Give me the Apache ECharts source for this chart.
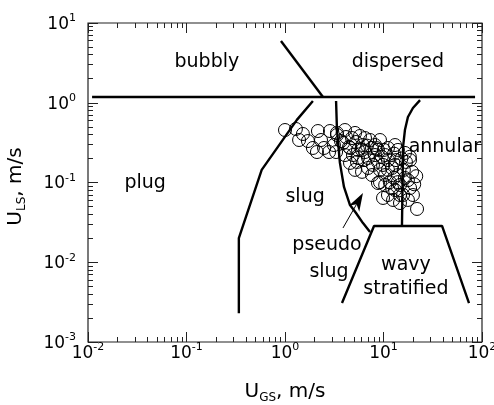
<!DOCTYPE html>
<html>
<head>
<meta charset="utf-8">
<script src="https://cdn.jsdelivr.net/npm/echarts@6/dist/echarts.min.js"></script>
<style>
  html, body { margin: 0; padding: 0; background: #fff; }
  #chart { width: 494px; height: 405px; }
</style>
</head>
<body>
<div id="chart"></div>
<script>
// Axis ranges (log-log map)
const X_RANGE = [0.01, 100];
const Y_RANGE = [0.001, 10];

// Measured points: superficial gas velocity U_GS vs liquid velocity U_LS (m/s)
const measurements = [
  [1.00, 0.455], [1.29, 0.469], [1.52, 0.406], [1.39, 0.341], [1.71, 0.331],
  [2.16, 0.442], [2.32, 0.341], [2.86, 0.442], [3.37, 0.418], [2.11, 0.241],
  [2.49, 0.271], [2.80, 0.241], [3.14, 0.295], [3.70, 0.331], [1.92, 0.271],
  [3.37, 0.394], [3.88, 0.313], [3.30, 0.241], [4.16, 0.372], [4.79, 0.361],
  [4.47, 0.279], [5.26, 0.322], [5.77, 0.383], [6.19, 0.295], [4.06, 0.221],
  [4.90, 0.221], [5.51, 0.256], [6.49, 0.241], [7.30, 0.341], [7.64, 0.271],
  [4.57, 0.176], [5.38, 0.181], [6.34, 0.191], [6.97, 0.152], [8.20, 0.221],
  [8.79, 0.181], [5.14, 0.144], [6.05, 0.136], [7.64, 0.124], [9.21, 0.144],
  [10.1, 0.256], [11.1, 0.191], [10.4, 0.124], [12.2, 0.152], [13.4, 0.191],
  [14.0, 0.124], [11.6, 0.101], [14.7, 0.0931], [16.1, 0.144], [17.7, 0.107],
  [13.1, 0.0805], [15.8, 0.0697], [18.6, 0.0853], [11.1, 0.0697], [12.5, 0.0604],
  [10.4, 0.0931], [19.5, 0.136], [16.9, 0.181], [14.0, 0.256], [9.21, 0.101],
  [8.79, 0.0986], [9.89, 0.0640], [14.7, 0.0553], [17.7, 0.0604], [19.9, 0.0697],
  [21.9, 0.0466], [13.1, 0.295], [9.21, 0.341], [11.1, 0.271], [6.8, 0.29],
  [8.5, 0.27], [9.6, 0.21], [12.8, 0.23], [15.2, 0.20], [16.5, 0.235],
  [21.5, 0.12], [20.5, 0.095], [18.5, 0.21],
  [4.06, 0.455], [5.14, 0.418], [6.49, 0.361], [8.20, 0.295], [10.4, 0.221],
  [13.1, 0.166], [5.51, 0.203], [6.97, 0.203], [8.79, 0.256], [11.1, 0.144],
  [14.0, 0.101], [16.5, 0.114], [18.6, 0.191], [12.2, 0.0853], [4.57, 0.271],
  [6.05, 0.256], [7.82, 0.166], [9.89, 0.166], [14.7, 0.0697], [12.8, 0.114]
];

// Regime boundaries
const bubblyPlugBoundary = [[0.011, 1.18], [85, 1.18]];
const bubblyDispersedBoundary = [[0.91, 5.94], [2.43, 1.18]];
const plugSlugBoundary = [[1.92, 1.05], [1.32, 0.61], [0.58, 0.144], [0.34, 0.020], [0.34, 0.0023]];
const slugPseudoBoundary = [[3.30, 1.05], [3.37, 0.455], [3.61, 0.176], [3.97, 0.088],
  [4.57, 0.0522], [5.26, 0.0415], [6.19, 0.0310], [7.30, 0.0239]];
const annularBoundary = [[23.5, 1.08], [19.9, 0.859], [17.7, 0.663], [16.5, 0.455],
  [15.8, 0.279], [15.4, 0.0285]];
const stratifiedBoundary = [[3.79, 0.00308], [8.01, 0.0285], [39.3, 0.0285], [73.8, 0.00308]];

// Arrow pointing from the "pseudo slug" caption into its region: [x0, y0, x1, y1]
const pseudoArrow = [[3.88, 0.0269, 6.19, 0.0738]];

// Region captions: [U_GS, U_LS, text]
const regionNames = [
  [0.161, 3.24, 'bubbly'],
  [14.0, 3.24, 'dispersed'],
  [0.038, 0.0986, 'plug'],
  [1.60, 0.0658, 'slug'],
  [18.0, 0.279, 'annular'],
  [2.67, 0.0164, 'pseudo'],
  [2.80, 0.00755, 'slug'],
  [16.9, 0.00924, 'wavy'],
  [16.9, 0.00462, 'stratified']
];

const FONT = 'DejaVu Sans';

const chart = echarts.init(document.getElementById('chart'), null, { renderer: 'canvas' });

function powLabel(v) {
  const e = Math.round(Math.log10(v));
  return '{b|10}{s|' + e + '}';
}
const powRich = {
  b: { fontFamily: FONT, fontSize: 17, color: '#000', lineHeight: 20, padding: [7, 0, 0, 0], verticalAlign: 'bottom' },
  s: { fontFamily: FONT, fontSize: 11, color: '#000', lineHeight: 12, verticalAlign: 'top' }
};
const titleRich = {
  u: { fontFamily: FONT, fontSize: 20, color: '#000', lineHeight: 22, verticalAlign: 'top' },
  sub: { fontFamily: FONT, fontSize: 12, color: '#000', lineHeight: 12, padding: [25, 0, 0, 0], verticalAlign: 'bottom' }
};

// Inward decade ticks with 2..9 minor ticks (9 linear steps per decade)
const tickStyle = {
  axisTick: { show: true, inside: true, length: 10, lineStyle: { color: '#222', width: 1 } },
  minorTick: { show: true, splitNumber: 9, length: 5, lineStyle: { color: '#222', width: 1 } },
  axisLine: { show: false }, splitLine: { show: false }, minorSplitLine: { show: false }
};

function logAxis(range, extra) {
  return Object.assign({ type: 'log', logBase: 10, min: range[0], max: range[1] }, tickStyle, extra);
}

function boundary(data) {
  return {
    type: 'line', data: data, showSymbol: false, symbol: 'none', z: 5,
    lineStyle: { color: '#000', width: 2.4 }, silent: true, animation: false
  };
}

const option = {
  animation: false,
  backgroundColor: '#fff',
  grid: {
    left: 88, right: 12, top: 23, bottom: 63, outerBoundsMode: 'none', containLabel: false,
    show: true, borderColor: '#222', borderWidth: 1.2
  },
  xAxis: [
    logAxis(X_RANGE, {
      position: 'bottom',
      axisLabel: { formatter: powLabel, rich: powRich, margin: 0 },
      name: '{u|U}{sub|GS}{u|, m/s}', nameLocation: 'middle', nameGap: 36,
      nameTextStyle: { rich: titleRich }
    }),
    logAxis(X_RANGE, { position: 'top', axisLabel: { show: false } })
  ],
  yAxis: [
    logAxis(Y_RANGE, {
      position: 'left',
      axisLabel: { formatter: powLabel, rich: powRich, margin: 12 },
      name: '{u|U}{sub|LS}{u|, m/s}', nameLocation: 'middle', nameGap: 60,
      nameTextStyle: { rich: titleRich, padding: [0, 8, 0, 0] }
    }),
    logAxis(Y_RANGE, { position: 'right', axisLabel: { show: false } })
  ],
  series: [
    {
      type: 'scatter', data: measurements, symbol: 'circle', symbolSize: 13, z: 3,
      itemStyle: { color: 'rgba(0,0,0,0)', borderColor: '#000', borderWidth: 1, opacity: 1 }
    },
    boundary(bubblyPlugBoundary),
    boundary(bubblyDispersedBoundary),
    boundary(plugSlugBoundary),
    boundary(slugPseudoBoundary),
    boundary(annularBoundary),
    boundary(stratifiedBoundary),
    {
      type: 'custom', data: pseudoArrow, z: 6, encode: { x: [0, 2], y: [1, 3] },
      renderItem: function (params, api) {
        const p0 = api.coord([api.value(0), api.value(1)]);
        const p1 = api.coord([api.value(2), api.value(3)]);
        const dx = p1[0] - p0[0], dy = p1[1] - p0[1];
        const len = Math.sqrt(dx * dx + dy * dy);
        const ux = dx / len, uy = dy / len;
        const hl = 18, hw = 6;
        const bx = p1[0] - ux * hl, by = p1[1] - uy * hl;
        const nx = bx + ux * 5, ny = by + uy * 5;
        return {
          type: 'group',
          children: [
            { type: 'line', shape: { x1: p0[0], y1: p0[1], x2: nx, y2: ny }, style: { stroke: '#000', lineWidth: 1 } },
            { type: 'polygon', shape: { points: [p1, [bx - uy * hw, by + ux * hw], [nx, ny], [bx + uy * hw, by - ux * hw]] },
              style: { fill: '#000' } }
          ]
        };
      }
    },
    {
      type: 'scatter', symbolSize: 0, z: 7, silent: true,
      itemStyle: { opacity: 1 },
      data: regionNames.map(r => ({
        value: [r[0], r[1]],
        label: r[2] === 'annular' ? { align: 'left' } : undefined
      })),
      label: {
        show: true, position: [0, 0], align: 'center', verticalAlign: 'middle',
        fontFamily: FONT, fontSize: 19, color: '#000',
        formatter: function (p) { return regionNames[p.dataIndex][2]; }
      }
    }
  ]
};
chart.setOption(option);
</script>
</body>
</html>
